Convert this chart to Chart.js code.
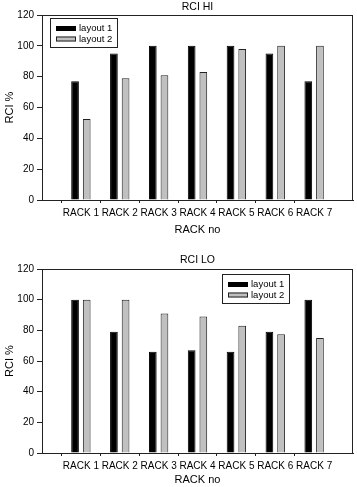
<!DOCTYPE html>
<html><head><meta charset="utf-8">
<script src="https://cdn.jsdelivr.net/npm/chart.js@4/dist/chart.umd.min.js"></script>
<style>
html,body{margin:0;padding:0;background:#fff;width:357px;height:487px;overflow:hidden}
.c{position:absolute;left:0}
</style></head><body>
<div class="c" style="top:0"><canvas id="hi" width="357" height="237"></canvas></div>
<div class="c" style="top:240px"><canvas id="lo" width="357" height="247"></canvas></div>
<script>
const racks = ['RACK 1','RACK 2','RACK 3','RACK 4','RACK 5','RACK 6','RACK 7'];
const seriesNames = ['layout 1','layout 2'];
const hiLayout1 = [77, 95, 100, 100, 100, 95, 77];
const hiLayout2 = [52.5, 79, 81, 83, 98, 100, 100];
const loLayout1 = [100, 79, 66, 67, 66, 79, 100];
const loLayout2 = [100, 100, 91, 89, 83, 77.5, 75];
const yTicks = [0, 20, 40, 60, 80, 100, 120];

const FONT = "'Liberation Sans', Arial, sans-serif";
const pad = arr => [null, ...arr, null];
const labels = ['', ...racks, ''];

const decor = {
  id: 'decor',
  afterDraw(chart, args, opts) {
    const {ctx, chartArea: a} = chart;
    ctx.save();
    ctx.strokeStyle = '#222';
    ctx.lineWidth = 1;
    ctx.strokeRect(a.left + 0.5, a.top + 0.5, a.right - a.left - 1, a.bottom - a.top);
    ctx.fillStyle = '#000';
    ctx.font = '10.5px ' + FONT;
    ctx.textAlign = 'center';
    ctx.textBaseline = 'middle';
    ctx.fillText(opts.title, (a.left + a.right) / 2, opts.titleY);
    const lx = a.left + opts.lx, ly = a.top + opts.ly, lw = 67, lh = 29;
    ctx.fillStyle = '#fff';
    ctx.fillRect(lx, ly, lw, lh);
    ctx.strokeStyle = '#222';
    ctx.strokeRect(lx + 0.5, ly + 0.5, lw, lh);
    const ds = chart.data.datasets;
    ds.forEach((d, i) => {
      const sy = ly + 8 + i * 10.5;
      ctx.fillStyle = d.backgroundColor;
      ctx.fillRect(lx + 6, sy, 20, 5);
      ctx.strokeStyle = d.borderColor;
      ctx.strokeRect(lx + 6.5, sy + 0.5, 19, 4);
      ctx.fillStyle = '#000';
      ctx.font = '9.5px ' + FONT;
      ctx.textAlign = 'left';
      ctx.textBaseline = 'middle';
      ctx.fillText(d.label, lx + 29, sy + 2.5);
    });
    ctx.restore();
  }
};

function makeChart(id, d1, d2, title, cfg) {
  new Chart(document.getElementById(id), {
    type: 'bar',
    data: {
      labels: labels,
      datasets: [
        {label: seriesNames[0], data: pad(d1), backgroundColor: '#000000', borderColor: '#000000', borderWidth: 1,
         categoryPercentage: 0.6, barPercentage: 0.66},
        {label: seriesNames[1], data: pad(d2), backgroundColor: '#c0c0c0', borderColor: '#222222', borderWidth: 1,
         categoryPercentage: 0.6, barPercentage: 0.66}
      ]
    },
    options: {
      responsive: false,
      animation: false,
      events: [],
      layout: {padding: {top: cfg.top, right: 2, left: 0, bottom: 0}},
      plugins: {
        legend: {display: false},
        tooltip: {enabled: false},
        decor: {title: title, titleY: cfg.titleY, lx: cfg.lx, ly: cfg.ly}
      },
      scales: {
        x: {
          offset: false,
          grid: {display: true, drawOnChartArea: false, drawTicks: true, tickLength: 3,
                 tickColor: c => (c.index === 0 || c.index === labels.length - 1) ? 'rgba(0,0,0,0)' : '#222'},
          border: {display: true, color: '#222'},
          ticks: {autoSkip: false, maxRotation: 0, minRotation: 0, padding: 4, color: '#000',
                  font: {family: FONT, size: 10}},
          title: {display: true, text: 'RACK no', color: '#000', font: {family: FONT, size: 11}, padding: {top: 0, bottom: 0}},
          afterFit: s => { s.height = cfg.xh; }
        },
        y: {
          min: 0, max: 120,
          afterBuildTicks: s => { s.ticks = yTicks.map(v => ({value: v})); },
          grid: {display: true, drawOnChartArea: false, drawTicks: true, tickLength: 5, tickColor: '#222'},
          border: {display: true, color: '#222'},
          ticks: {padding: 3, color: '#000', font: {family: FONT, size: 10}},
          title: {display: true, text: 'RCI %', color: '#000', font: {family: FONT, size: 11}, padding: {top: 3, bottom: 0}},
          afterFit: s => { s.width = 42; }
        }
      }
    },
    plugins: [decor]
  });
}

makeChart('hi', hiLayout1, hiLayout2, 'RCI HI', {top: 15, xh: 37, titleY: 7, lx: 8, ly: 3});
makeChart('lo', loLayout1, loLayout2, 'RCI LO', {top: 29, xh: 34, titleY: 20, lx: 180, ly: 5});
</script>
</body></html>
